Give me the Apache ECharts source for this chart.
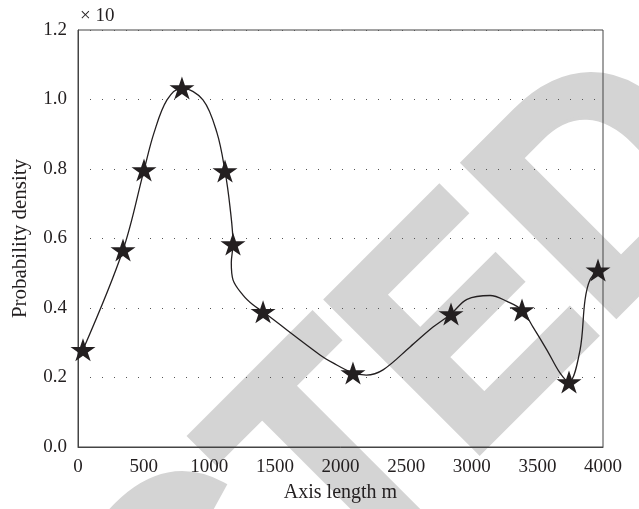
<!DOCTYPE html>
<html>
<head>
<meta charset="utf-8">
<script src="https://cdn.jsdelivr.net/npm/echarts@6/dist/echarts.min.js"></script>
<style>html,body{margin:0;padding:0;background:#fff;}#c{width:639px;height:509px;}</style>
</head>
<body>
<div id="c"></div>
<script>
// Star markers (measured points)
var starX = [38, 343, 503, 792, 1120, 1181, 1410, 2095, 2842, 3383, 3741, 3962];
var starY = [0.28, 0.567, 0.797, 1.033, 0.794, 0.584, 0.389, 0.213, 0.383, 0.394, 0.187, 0.509];
// Fitted curve
var curveX = [38, 343, 503, 579, 678, 792, 952, 1059, 1120, 1158, 1181, 1168, 1181, 1257, 1333, 1410, 1844, 1943, 2095, 2197, 2324, 2530, 2705, 2842, 2964, 3140, 3269, 3383, 3467, 3573, 3672, 3741, 3825, 3863, 3901, 3962];
var curveY = [0.28, 0.567, 0.797, 0.904, 0.999, 1.033, 0.999, 0.904, 0.794, 0.691, 0.584, 0.53, 0.481, 0.437, 0.409, 0.389, 0.265, 0.242, 0.213, 0.207, 0.222, 0.288, 0.345, 0.383, 0.425, 0.436, 0.419, 0.394, 0.345, 0.279, 0.213, 0.187, 0.279, 0.423, 0.481, 0.509];
var xTicks = [0, 500, 1000, 1500, 2000, 2500, 3000, 3500, 4000];
var yTicks = [0.0, 0.2, 0.4, 0.6, 0.8, 1.0, 1.2];

var starPath = 'path://M100,0 L122.45,69.1 L195.1,69.1 L136.3,111.8 L158.8,180.9 L100,138.2 L41.2,180.9 L63.7,111.8 L4.9,69.1 L77.55,69.1 Z';
var serif = '"Liberation Serif", "DejaVu Serif", serif';

var chart = echarts.init(document.getElementById('c'), null, {renderer: 'canvas'});
chart.setOption({
  animation: false,
  backgroundColor: '#fff',
  graphic: [
    {
      type: 'text', z: -10,
      x: 690, y: 119, rotation: Math.PI / 4, scaleX: 0.935, scaleY: 1,
      style: {text: 'RETRACTED', font: 'bold 310px "Liberation Sans", sans-serif', fill: '#d4d4d4',
        stroke: '#d4d4d4', lineWidth: 8, lineJoin: 'miter', align: 'right', verticalAlign: 'middle'}
    },
    {
      type: 'text', left: 80, top: 7,
      style: {text: '× 10', font: '19px ' + serif, fill: '#231f20'}
    }
  ],
  grid: {left: 78, right: 36, top: 30, bottom: 62, show: true, borderColor: '#444', borderWidth: 1, backgroundColor: 'transparent'},
  xAxis: {
    type: 'value', min: 0, max: 4000, interval: 500,
    name: 'Axis length m', nameLocation: 'middle', nameGap: 36,
    nameTextStyle: {fontFamily: serif, fontSize: 20, color: '#231f20'},
    axisLine: {show: true, lineStyle: {color: '#444', width: 1}},
    axisTick: {show: false},
    axisLabel: {fontFamily: serif, fontSize: 19, color: '#231f20', margin: 11,
      formatter: function (v) { return xTicks.indexOf(v) >= 0 ? String(v) : ''; }},
    splitLine: {show: false}
  },
  yAxis: {
    type: 'value', min: 0, max: 1.2, interval: 0.2,
    name: 'Probability density', nameLocation: 'middle', nameGap: 47,
    nameTextStyle: {fontFamily: serif, fontSize: 21, color: '#231f20'},
    axisLine: {show: true, lineStyle: {color: '#444', width: 1}},
    axisTick: {show: false},
    axisLabel: {fontFamily: serif, fontSize: 19, color: '#231f20', margin: 11,
      formatter: function (v) {
        for (var i = 0; i < yTicks.length; i++) { if (Math.abs(yTicks[i] - v) < 1e-6) return yTicks[i].toFixed(1); }
        return '';
      }},
    splitLine: {show: true, lineStyle: {color: '#555', width: 1, type: [1, 11]}}
  },
  series: [
    {
      type: 'line', data: curveX.map(function (x, i) { return [x, curveY[i]]; }),
      smooth: 0.35, showSymbol: false, symbol: 'none',
      lineStyle: {color: '#231f20', width: 1.3}, z: 2
    },
    {
      type: 'scatter', data: starX.map(function (x, i) { return [x, starY[i]]; }),
      symbol: starPath, symbolSize: [25, 23],
      itemStyle: {color: '#231f20', opacity: 1}, z: 3
    }
  ]
});
</script>
</body>
</html>
